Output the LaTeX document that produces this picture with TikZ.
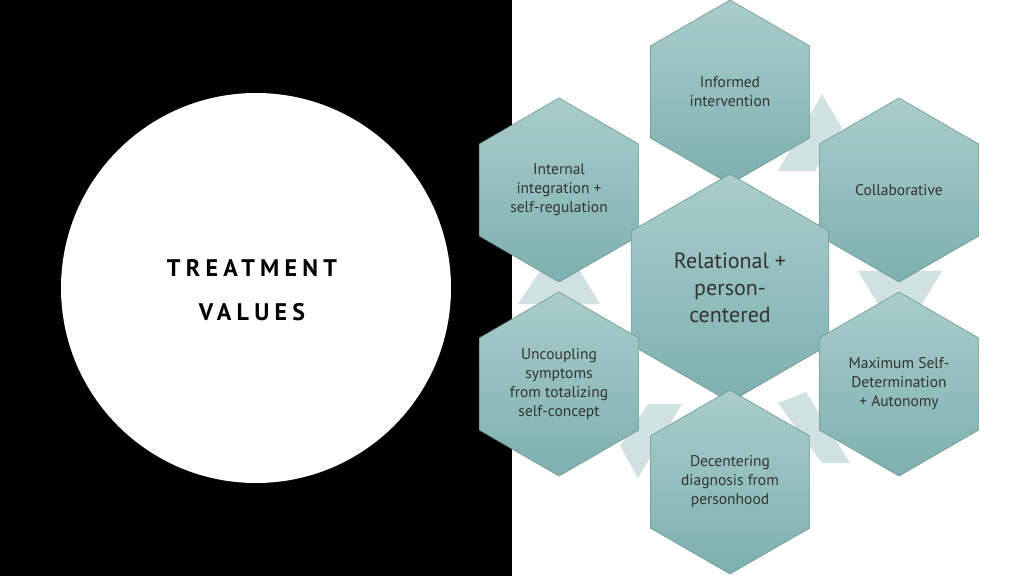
\documentclass[tikz,border=0pt]{standalone}
\usepackage{fontspec}
\setmainfont{PT Sans}
\usetikzlibrary{shapes.geometric}
\definecolor{hextop}{HTML}{A9CDCB}
\definecolor{hexbot}{HTML}{7DB0AD}
\definecolor{hexline}{HTML}{6E9694}
\definecolor{hextext}{HTML}{333333}
\definecolor{linkfill}{HTML}{CFE1E0}

\begin{document}
\begin{tikzpicture}[x=1pt,y=-1pt,
    hex/.style={regular polygon, regular polygon sides=6, shape border rotate=30,
                inner sep=0pt, draw=hexline, line width=0.6pt,
                top color=hextop, bottom color=hexbot,
                text=hextext, align=center, font=\fontsize{15.5}{19}\selectfont},
    link/.style={fill=linkfill, draw=none}]

  \useasboundingbox (0,0) rectangle (1024,576);
  \fill[black] (0,0) rectangle (512,576);
  \fill[white] (256,288) circle (195);
  \node (title) at (252,290) [align=center, font=\fontsize{24}{44}\selectfont\bfseries\addfontfeatures{LetterSpace=22}]
        {TREATMENT\\VALUES};

  % connectors between outer cells
  \fill[link] (822,94) -- (842,128) -- (815,171) -- (778,171) -- cycle;
  \fill[link] (858,271) -- (942,271) -- (922,304) -- (878,304) -- cycle;
  \fill[link] (778,403) -- (806,392) -- (850,463) -- (822,463) -- cycle;
  \fill[link] (648,404) -- (682,404) -- (638,478) -- (620,446) -- cycle;
  \fill[link] (540,271) -- (580,271) -- (600,304) -- (518,304) -- cycle;

  \node[hex, minimum size=184pt] (informed) at (730,92)  {Informed\\intervention};
  \node[hex, minimum size=184pt] (internal) at (559,190) {Internal\\integration +\\self-regulation};
  \node[hex, minimum size=184pt] (collab)   at (899,190) {Collaborative};
  \node[hex, minimum size=228pt, font=\fontsize{22}{27}\selectfont] (center) at (730,288)
        {Relational +\\person-\\centered};
  \node[hex, minimum size=184pt] (uncoupl)  at (559,384) {Uncoupling\\symptoms\\from totalizing\\self-concept};
  \node[hex, minimum size=184pt] (maximum)  at (899,384) {Maximum Self-\\Determination\\+ Autonomy};
  \node[hex, minimum size=184pt] (decenter) at (730,482) {Decentering\\diagnosis from\\personhood};
\end{tikzpicture}
\end{document}
